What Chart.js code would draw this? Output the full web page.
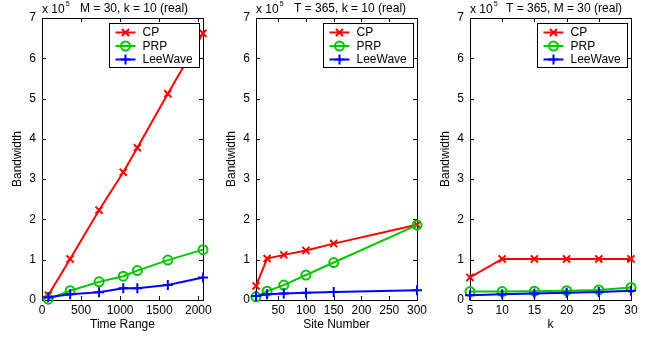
<!DOCTYPE html>
<html>
<head>
<meta charset="utf-8">
<script src="https://cdn.jsdelivr.net/npm/chart.js@4.4.1/dist/chart.umd.min.js"></script>
<style>
  html, body { margin: 0; padding: 0; background: #fff; }
  #wrap { position: relative; width: 654px; height: 337px; overflow: hidden; background: #fff; }
  #wrap canvas { position: absolute; top: 0; }
</style>
</head>
<body>
<div id="wrap">
  <canvas id="c1" style="left:0px"></canvas>
  <canvas id="c2" style="left:214px"></canvas>
  <canvas id="c3" style="left:428px"></canvas>
</div>
<script>
// series shared by all three panels
const seriesNames = ['CP', 'PRP', 'LeeWave']
const seriesColors = ['#ff0000', '#00c800', '#0000ff']
const seriesMarkers = ['crossRot', 'circle', 'cross']
const seriesRadius = [5, 4.5, 5]

// y values are in units of 10^5
const yTicks = [0, 1, 2, 3, 4, 5, 6, 7]

// panel 1: M = 30, k = 10
const timeRange = [80, 360, 730, 1040, 1220, 1610, 2060]
const timeCP = [0.12, 1.02, 2.23, 3.17, 3.78, 5.12, 6.62]
const timePRP = [0.02, 0.23, 0.45, 0.59, 0.73, 0.99, 1.25]
const timeLee = [0.07, 0.14, 0.19, 0.29, 0.29, 0.37, 0.56]
const timeTicks = [0, 500, 1000, 1500, 2000]

// panel 2: T = 365, k = 10
const siteNumber = [10, 30, 60, 100, 150, 300]
const siteCP = [0.35, 1.03, 1.12, 1.23, 1.40, 1.87]
const sitePRP = [0.08, 0.22, 0.37, 0.62, 0.93, 1.86]
const siteLee = [0.10, 0.14, 0.16, 0.18, 0.20, 0.24]
const siteTicks = [50, 100, 150, 200, 250, 300]

// panel 3: T = 365, M = 30
const kValues = [5, 10, 15, 20, 25, 30]
const kCP = [0.56, 1.02, 1.02, 1.02, 1.02, 1.02]
const kPRP = [0.21, 0.21, 0.22, 0.23, 0.25, 0.31]
const kLee = [0.12, 0.14, 0.16, 0.18, 0.20, 0.23]
const kTicks = [5, 10, 15, 20, 25, 30]

const FONT = "'Liberation Sans', Arial, Helvetica, sans-serif"

function drawMarker(ctx, style, r, x, y, color) {
  if (Chart.helpers && Chart.helpers.drawPoint) {
    ctx.strokeStyle = color
    ctx.fillStyle = 'rgba(0,0,0,0)'
    ctx.lineWidth = 2
    Chart.helpers.drawPoint(ctx, { pointStyle: style, radius: r, borderWidth: 2, rotation: 0 }, x, y)
    return
  }
  ctx.strokeStyle = color
  ctx.lineWidth = 2
  ctx.beginPath()
  if (style === 'circle') {
    ctx.arc(x, y, r, 0, Math.PI * 2)
  } else if (style === 'cross') {
    ctx.moveTo(x - r, y); ctx.lineTo(x + r, y)
    ctx.moveTo(x, y - r); ctx.lineTo(x, y + r)
  } else {
    const d = r * 0.707
    ctx.moveTo(x - d, y - d); ctx.lineTo(x + d, y + d)
    ctx.moveTo(x - d, y + d); ctx.lineTo(x + d, y - d)
  }
  ctx.stroke()
}

// box + inward ticks on all four sides, like the original axes
const framePlugin = {
  id: 'frame',
  beforeDatasetsDraw(chart) {
    const { ctx, chartArea: a, scales } = chart
    ctx.save()
    ctx.strokeStyle = '#000'
    ctx.lineWidth = 1
    ctx.beginPath()
    scales.x.ticks.forEach(t => {
      const px = Math.round(scales.x.getPixelForValue(t.value)) + 0.5
      ctx.moveTo(px, a.bottom); ctx.lineTo(px, a.bottom - 4)
      ctx.moveTo(px, a.top); ctx.lineTo(px, a.top + 4)
    })
    scales.y.ticks.forEach(t => {
      const py = Math.round(scales.y.getPixelForValue(t.value)) + 0.5
      ctx.moveTo(a.left, py); ctx.lineTo(a.left + 4, py)
      ctx.moveTo(a.right, py); ctx.lineTo(a.right - 4, py)
    })
    ctx.stroke()
    ctx.strokeRect(Math.round(a.left) + 0.5, Math.round(a.top) + 0.5,
      Math.round(a.right - a.left), Math.round(a.bottom - a.top))
    ctx.restore()
  },
  afterDraw(chart, args, opts) {
    const { ctx, chartArea: a } = chart
    ctx.save()
    ctx.fillStyle = '#000'
    ctx.textBaseline = 'alphabetic'
    ctx.textAlign = 'left'
    // exponent label
    ctx.font = '12px ' + FONT
    ctx.fillText('x 10', a.left, 13)
    const w = ctx.measureText('x 10').width
    ctx.font = '7px ' + FONT
    ctx.fillText('5', a.left + w + 1, 6)
    // caption
    ctx.font = '12px ' + FONT
    ctx.fillText(opts.caption, a.left + opts.captionOffset, 12)

    // legend box
    const bw = 90, bh = 44
    const bx = Math.round(a.right - 4 - bw) + 0.5
    const by = Math.round(a.top + 5) + 0.5
    ctx.fillStyle = '#fff'
    ctx.fillRect(bx, by, bw, bh)
    ctx.strokeStyle = '#000'
    ctx.lineWidth = 1
    ctx.strokeRect(bx, by, bw, bh)
    chart.data.datasets.forEach((ds, i) => {
      const y = by + 9 + i * 13.5
      ctx.strokeStyle = ds.borderColor
      ctx.lineWidth = 2
      ctx.beginPath()
      ctx.moveTo(bx + 6, y); ctx.lineTo(bx + 26, y)
      ctx.stroke()
      drawMarker(ctx, ds.pointStyle, ds.pointRadius, bx + 16, y, ds.borderColor)
      ctx.fillStyle = '#000'
      ctx.font = '12px ' + FONT
      ctx.textBaseline = 'middle'
      ctx.fillText(ds.label, bx + 33, y + 0.5)
    })
    ctx.restore()
  }
}

function makePanel(id, width, xs, ys, xMin, xMax, xTicks, xTitle, caption, captionOffset) {
  const canvas = document.getElementById(id)
  canvas.width = width
  canvas.height = 337
  canvas.style.width = width + 'px'
  canvas.style.height = '337px'

  const datasets = seriesNames.map((name, i) => ({
    label: name,
    data: xs.map((x, j) => ({ x: x, y: ys[i][j] })),
    borderColor: seriesColors[i],
    backgroundColor: 'rgba(0,0,0,0)',
    borderWidth: 2,
    pointStyle: seriesMarkers[i],
    pointRadius: seriesRadius[i],
    pointBorderWidth: 2,
    pointBorderColor: seriesColors[i],
    pointBackgroundColor: 'rgba(0,0,0,0)',
    tension: 0,
    clip: false,
    order: 3 - i
  }))

  return new Chart(canvas.getContext('2d'), {
    type: 'line',
    data: { datasets },
    plugins: [framePlugin],
    options: {
      responsive: false,
      animation: false,
      devicePixelRatio: 1,
      layout: { padding: { top: 18, right: width - 203, left: 0, bottom: 0 } },
      plugins: {
        legend: { display: false },
        tooltip: { enabled: false },
        frame: { caption, captionOffset }
      },
      scales: {
        x: {
          type: 'linear',
          min: xMin,
          max: xMax,
          afterBuildTicks: s => { s.ticks = xTicks.map(v => ({ value: v })) },
          afterFit: s => { s.height = 37 },
          grid: { display: false, drawTicks: false },
          border: { display: false },
          ticks: {
            color: '#000', font: { family: FONT, size: 12 }, padding: 3, maxRotation: 0, autoSkip: false,
            callback: v => String(v)
          },
          title: { display: true, text: xTitle, color: '#000', font: { family: FONT, size: 12 }, padding: { top: 0, bottom: 5 } }
        },
        y: {
          min: 0,
          max: 7,
          afterBuildTicks: s => { s.ticks = yTicks.map(v => ({ value: v })) },
          afterFit: s => { s.width = 42 },
          grid: { display: false, drawTicks: false },
          border: { display: false },
          ticks: { color: '#000', font: { family: FONT, size: 12 }, padding: 6, callback: v => String(v) },
          title: { display: true, text: 'Bandwidth', color: '#000', font: { family: FONT, size: 12 }, padding: { top: 10, bottom: 0 } }
        }
      }
    }
  })
}

makePanel('c1', 223, timeRange, [timeCP, timePRP, timeLee], 0, 2060, timeTicks,
  'Time Range', 'M = 30, k = 10 (real)', 38)
makePanel('c2', 223, siteNumber, [siteCP, sitePRP, siteLee], 10, 300, siteTicks,
  'Site Number', 'T = 365, k = 10 (real)', 38)
makePanel('c3', 226, kValues, [kCP, kPRP, kLee], 5, 30, kTicks,
  'k', 'T = 365, M = 30 (real)', 36)
</script>
</body>
</html>
